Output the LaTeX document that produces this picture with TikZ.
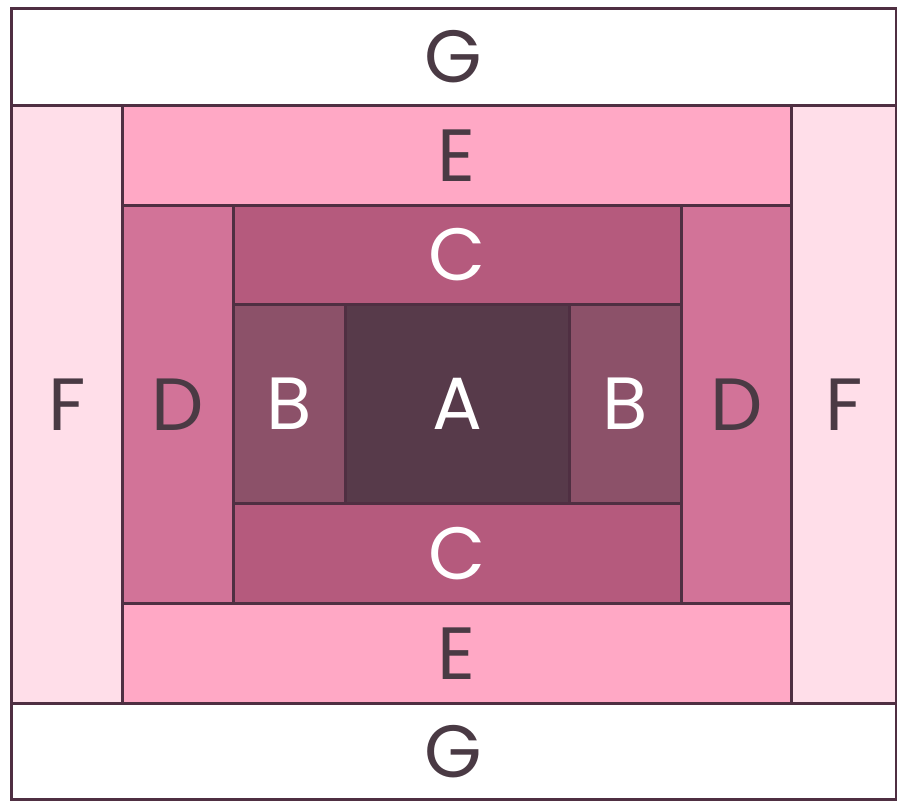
\documentclass[tikz,border=0pt]{standalone}
\usepackage{fontspec}
\setmainfont{Poppins}
\usepackage{tikz}

\definecolor{lineclr}{HTML}{4F2F42}
\definecolor{textclr}{HTML}{4A3A44}
\definecolor{colA}{HTML}{573A4A}
\definecolor{colB}{HTML}{8C5169}
\definecolor{colC}{HTML}{B55A7D}
\definecolor{colD}{HTML}{D27398}
\definecolor{colE}{HTML}{FFA8C5}
\definecolor{colF}{HTML}{FFDEE9}

\tikzset{
  patch/.style={draw=lineclr, line width=2.5pt, anchor=north west, inner sep=0pt,
    text=textclr, font=\fontsize{74}{74}\selectfont},
  light/.style={text=white},
}

\begin{document}
\begin{tikzpicture}[x=1pt,y=-1pt]
         \useasboundingbox (0,0) rectangle (897,801);
         % outer rows
         \node[patch, fill=white, minimum width=885pt, minimum height=97pt] (G1) at (10,7) {G};
         \node[patch, fill=white, minimum width=885pt, minimum height=96pt] (G2) at (10,702) {G};
         % side columns
         \node[patch, fill=colF, minimum width=111pt, minimum height=598pt] (F1) at (10,104) {F};
         \node[patch, fill=colF, minimum width=105pt, minimum height=598pt] (F2) at (790,104) {F};
         % E rows
         \node[patch, fill=colE, minimum width=669pt, minimum height=100pt] (E1) at (121,104) {E};
         \node[patch, fill=colE, minimum width=669pt, minimum height=100pt] (E2) at (121,602) {E};
         % D columns
         \node[patch, fill=colD, minimum width=111pt, minimum height=398pt] (D1) at (121,204) {D};
         \node[patch, fill=colD, minimum width=110pt, minimum height=398pt] (D2) at (680,204) {D};
         % C rows
         \node[patch, light, fill=colC, minimum width=448pt, minimum height=99pt] (C1) at (232,204) {C};
         \node[patch, light, fill=colC, minimum width=448pt, minimum height=100pt] (C2) at (232,502) {C};
         % B columns
         \node[patch, light, fill=colB, minimum width=112pt, minimum height=199pt] (B1) at (232,303) {B};
         \node[patch, light, fill=colB, minimum width=112pt, minimum height=199pt] (B2) at (568,303) {B};
         % centre
         \node[patch, light, fill=colA, minimum width=224pt, minimum height=199pt] (A) at (344,303) {A};
\end{tikzpicture}
\end{document}
